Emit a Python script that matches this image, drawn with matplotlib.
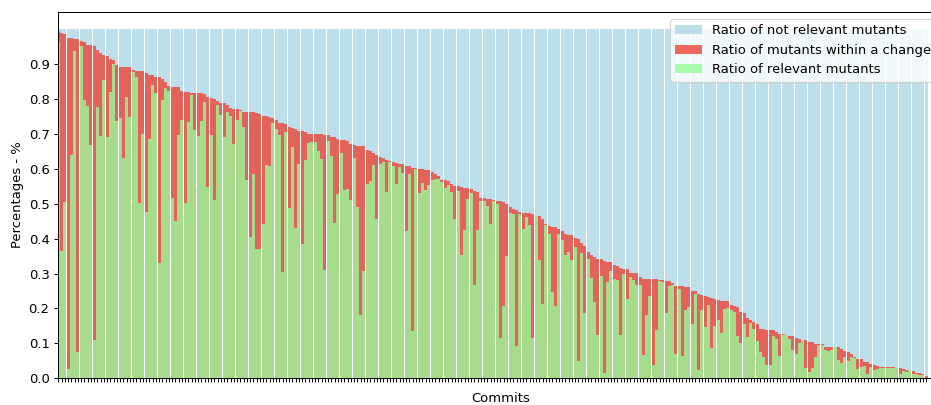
import matplotlib
matplotlib.use('Agg')
import matplotlib.pyplot as plt  # lib for graphs
import numpy as np  # lib for math operations

# ratio of mutants within a change (top of the red bars), one value per commit
changed = [
    0.996, 0.990, 0.987, 0.976, 0.974, 0.972, 0.972, 0.967, 0.964, 0.955,
    0.955, 0.953, 0.941, 0.933, 0.927, 0.922, 0.914, 0.912, 0.898, 0.892,
    0.892, 0.892, 0.892, 0.883, 0.881, 0.881, 0.879, 0.875, 0.868, 0.868,
    0.864, 0.864, 0.857, 0.849, 0.838, 0.835, 0.835, 0.835, 0.824, 0.821,
    0.821, 0.817, 0.817, 0.817, 0.817, 0.814, 0.806, 0.804, 0.801, 0.795,
    0.789, 0.789, 0.782, 0.775, 0.772, 0.771, 0.769, 0.764, 0.764, 0.762,
    0.762, 0.760, 0.758, 0.751, 0.751, 0.749, 0.746, 0.739, 0.731, 0.731,
    0.727, 0.720, 0.718, 0.714, 0.709, 0.709, 0.706, 0.700, 0.700, 0.700,
    0.700, 0.700, 0.697, 0.697, 0.692, 0.692, 0.685, 0.682, 0.682, 0.680,
    0.671, 0.669, 0.666, 0.666, 0.666, 0.654, 0.651, 0.646, 0.640, 0.634,
    0.631, 0.626, 0.623, 0.620, 0.617, 0.614, 0.614, 0.608, 0.608, 0.603,
    0.603, 0.600, 0.600, 0.597, 0.597, 0.591, 0.585, 0.580, 0.568, 0.568,
    0.565, 0.557, 0.551, 0.551, 0.548, 0.545, 0.545, 0.543, 0.537, 0.534,
    0.517, 0.517, 0.514, 0.514, 0.511, 0.508, 0.508, 0.505, 0.500, 0.491,
    0.485, 0.482, 0.477, 0.474, 0.474, 0.474, 0.471, 0.465, 0.465, 0.457,
    0.442, 0.436, 0.434, 0.434, 0.428, 0.422, 0.414, 0.411, 0.411, 0.402,
    0.399, 0.388, 0.379, 0.362, 0.353, 0.348, 0.342, 0.342, 0.336, 0.333,
    0.333, 0.325, 0.322, 0.316, 0.313, 0.313, 0.302, 0.302, 0.302, 0.290,
    0.285, 0.285, 0.285, 0.285, 0.285, 0.282, 0.282, 0.279, 0.279, 0.273,
    0.264, 0.264, 0.264, 0.261, 0.261, 0.250, 0.250, 0.241, 0.238, 0.235,
    0.233, 0.230, 0.227, 0.224, 0.221, 0.221, 0.221, 0.210, 0.207, 0.204,
    0.190, 0.187, 0.173, 0.167, 0.161, 0.156, 0.141, 0.141, 0.138, 0.138,
    0.138, 0.133, 0.127, 0.127, 0.124, 0.121, 0.121, 0.116, 0.113, 0.110,
    0.110, 0.104, 0.104, 0.098, 0.098, 0.098, 0.090, 0.090, 0.090, 0.090,
    0.090, 0.084, 0.078, 0.075, 0.070, 0.061, 0.055, 0.055, 0.047, 0.047,
    0.041, 0.038, 0.035, 0.032, 0.032, 0.032, 0.032, 0.032, 0.030, 0.030,
    0.027, 0.024, 0.024, 0.021, 0.015, 0.015, 0.012, 0.006,
]

# ratio of relevant mutants (top of the green bars)
relevant = [
    0.962, 0.366, 0.506, 0.026, 0.640, 0.938, 0.076, 0.952, 0.798, 0.781,
    0.669, 0.110, 0.778, 0.693, 0.855, 0.691, 0.821, 0.901, 0.738, 0.746,
    0.632, 0.806, 0.747, 0.878, 0.864, 0.503, 0.700, 0.475, 0.686, 0.841,
    0.818, 0.331, 0.798, 0.831, 0.822, 0.516, 0.451, 0.697, 0.740, 0.503,
    0.735, 0.812, 0.712, 0.693, 0.738, 0.792, 0.548, 0.697, 0.511, 0.782,
    0.755, 0.690, 0.763, 0.751, 0.670, 0.740, 0.766, 0.721, 0.567, 0.404,
    0.586, 0.371, 0.371, 0.441, 0.611, 0.609, 0.732, 0.713, 0.697, 0.305,
    0.705, 0.488, 0.663, 0.431, 0.613, 0.384, 0.626, 0.674, 0.678, 0.676,
    0.651, 0.628, 0.310, 0.680, 0.637, 0.445, 0.528, 0.646, 0.540, 0.543,
    0.511, 0.631, 0.491, 0.181, 0.308, 0.557, 0.565, 0.611, 0.456, 0.614,
    0.620, 0.534, 0.620, 0.608, 0.557, 0.606, 0.588, 0.422, 0.585, 0.136,
    0.600, 0.531, 0.560, 0.540, 0.554, 0.568, 0.571, 0.571, 0.563, 0.545,
    0.554, 0.534, 0.456, 0.537, 0.353, 0.425, 0.514, 0.531, 0.267, 0.425,
    0.508, 0.508, 0.494, 0.442, 0.508, 0.500, 0.116, 0.207, 0.351, 0.474,
    0.471, 0.093, 0.471, 0.428, 0.462, 0.439, 0.116, 0.465, 0.339, 0.213,
    0.439, 0.414, 0.247, 0.207, 0.414, 0.396, 0.353, 0.362, 0.339, 0.376,
    0.050, 0.359, 0.187, 0.342, 0.287, 0.219, 0.124, 0.293, 0.015, 0.276,
    0.308, 0.285, 0.282, 0.124, 0.299, 0.227, 0.290, 0.282, 0.267, 0.267,
    0.067, 0.181, 0.236, 0.038, 0.138, 0.279, 0.276, 0.187, 0.265, 0.267,
    0.070, 0.256, 0.064, 0.195, 0.204, 0.156, 0.242, 0.024, 0.195, 0.147,
    0.210, 0.087, 0.150, 0.167, 0.130, 0.199, 0.202, 0.196, 0.190, 0.121,
    0.101, 0.156, 0.118, 0.159, 0.141, 0.107, 0.076, 0.061, 0.038, 0.038,
    0.121, 0.113, 0.064, 0.124, 0.124, 0.113, 0.081, 0.070, 0.101, 0.110,
    0.030, 0.017, 0.029, 0.061, 0.096, 0.096, 0.081, 0.078, 0.081, 0.090,
    0.053, 0.044, 0.061, 0.050, 0.061, 0.058, 0.027, 0.032, 0.035, 0.012,
    0.032, 0.024, 0.027, 0.030, 0.030, 0.030, 0.030, 0.030, 0.030, 0.012,
    0.021, 0.018, 0.024, 0.012, 0.012, 0.010, 0.010, 0.000,
]

# the remaining share: every commit sums to 1
not_relevant = [1.0] * len(changed)
commits = np.arange(len(changed))

plt.rcParams['font.size'] = 10.5

fig = plt.figure(figsize=(931 / 90, 405 / 90), dpi=90)
# axes run past the right border, like the cropped original
right = 944
ax = fig.add_axes([58.3 / 931, 26.7 / 405, (right - 58.3) / 931, 366.6 / 405])

ax.bar(commits, not_relevant, width=0.9, color='lightblue', alpha=0.8,
       label='Ratio of not relevant mutants')
ax.bar(commits, changed, width=0.9, color='#eb4436', alpha=0.8,
       label='Ratio of mutants within a change')
ax.bar(commits, relevant, width=0.9, color='palegreen', alpha=0.8,
       label='Ratio of relevant mutants')

ax.set_xlim(0, (right - 58.3) / 3.25)
ax.set_ylim(0, 1.05)
ax.set_yticks(np.arange(0, 1.0, 0.1))
ax.set_xticks(commits)
ax.set_xticklabels([])
ax.set_xlabel('Commits')
ax.set_ylabel('Percentages - %')

ax.legend(loc='upper left', bbox_to_anchor=(670 / 931, (405 - 19) / 405),
          bbox_transform=fig.transFigure, borderaxespad=0)

fig.savefig('out.png', dpi=90)
